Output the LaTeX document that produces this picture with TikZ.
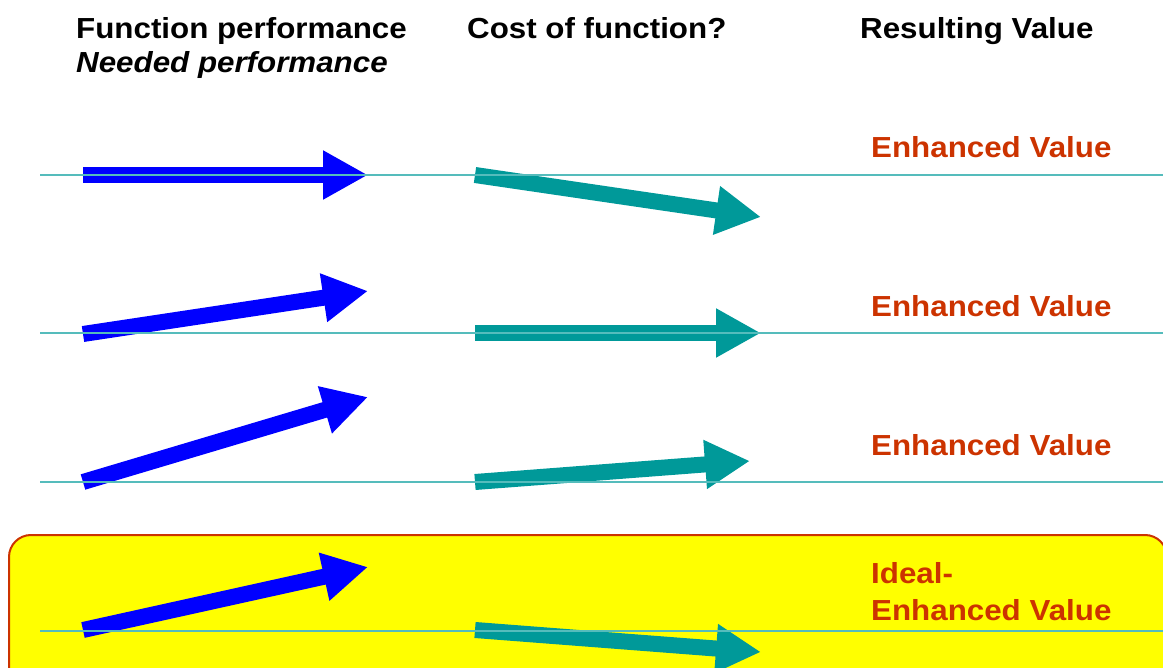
\documentclass[tikz,border=0pt]{standalone}
\usepackage{fontspec}
\setmainfont{Liberation Sans}
\usetikzlibrary{arrows.meta}
\definecolor{arrblue}{RGB}{0,0,255}
\definecolor{arrteal}{RGB}{0,153,153}
\definecolor{thinteal}{RGB}{85,188,188}
\definecolor{valred}{RGB}{204,51,0}
\definecolor{boxyellow}{RGB}{255,255,0}
\newcommand{\wide}[1]{\scalebox{1.08}[1]{#1}}
\begin{document}
\begin{tikzpicture}[x=1pt,y=-1pt,
  blockarrow/.style={line width=16pt, -{Triangle[width=46pt,length=45pt]}},
  bluearr/.style={blockarrow, draw=arrblue},
  tealarr/.style={blockarrow, draw=arrteal},
  guide/.style={draw=thinteal, line width=1.5pt},
  head/.style={anchor=base west, inner sep=0pt, font=\fontsize{29}{34}\selectfont\bfseries},
  val/.style={head, text=valred}]
\useasboundingbox (0,0) rectangle (1163,668);
% ideal box
\begin{scope}
  \clip (0,0) rectangle (1163,668);
  \draw[draw=valred, fill=boxyellow, line width=2pt, rounded corners=22pt] (9,535) rectangle (1167,720);
\end{scope}
% headers
\node[head] (hfun) at (76,39) {\wide{Function performance}};
\node[head, font=\fontsize{29}{34}\selectfont\bfseries\itshape] (hneed) at (76,73) {\wide{Needed performance}};
\node[head] (hcost) at (467,39) {\wide{Cost of function?}};
\node[head] (hres) at (860,39) {\wide{Resulting Value}};
% values
\node[val] (v1) at (871,158) {\wide{Enhanced Value}};
\node[val] (v2) at (871,317) {\wide{Enhanced Value}};
\node[val] (v3) at (871,456) {\wide{Enhanced Value}};
\node[val] (v4a) at (871,583) {\wide{Ideal-}};
\node[val] (v4b) at (871,620) {\wide{Enhanced Value}};
% arrow coordinates
\coordinate (b1t) at (83,175);  \coordinate (b1h) at (368,175);
\coordinate (b2t) at (83,334);  \coordinate (b2h) at (368,291);
\coordinate (b3t) at (83,482);  \coordinate (b3h) at (368,397);
\coordinate (b4t) at (83,630);  \coordinate (b4h) at (368,567);
\coordinate (t1t) at (475,175); \coordinate (t1h) at (761,217);
\coordinate (t2t) at (475,333); \coordinate (t2h) at (761,333);
\coordinate (t3t) at (475,482); \coordinate (t3h) at (750,461);
\coordinate (t4t) at (475,630); \coordinate (t4h) at (761,652);
\draw[bluearr] (b1t) -- (b1h);
\draw[bluearr] (b2t) -- (b2h);
\draw[bluearr] (b3t) -- (b3h);
\draw[bluearr] (b4t) -- (b4h);
\draw[tealarr] (t1t) -- (t1h);
\draw[tealarr] (t2t) -- (t2h);
\draw[tealarr] (t3t) -- (t3h);
\draw[tealarr] (t4t) -- (t4h);
% guide lines
\coordinate (g1a) at (40,175); \coordinate (g1b) at (1163,175);
\coordinate (g2a) at (40,333); \coordinate (g2b) at (1163,333);
\coordinate (g3a) at (40,482); \coordinate (g3b) at (1163,482);
\coordinate (g4a) at (40,631); \coordinate (g4b) at (1163,631);
\draw[guide] (g1a) -- (g1b);
\draw[guide] (g2a) -- (g2b);
\draw[guide] (g3a) -- (g3b);
\draw[guide] (g4a) -- (g4b);
\end{tikzpicture}
\end{document}
